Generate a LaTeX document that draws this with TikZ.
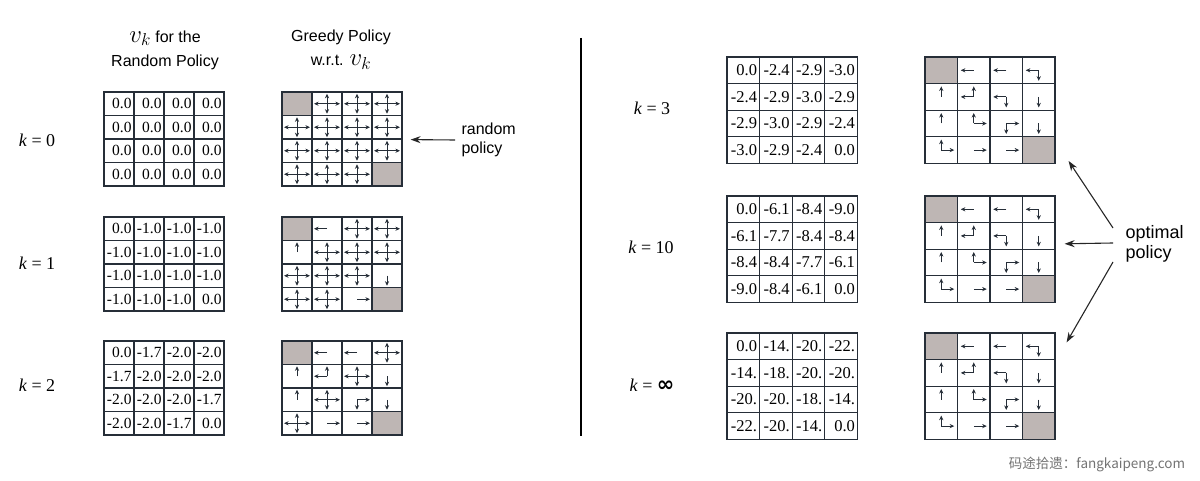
\documentclass[tikz,border=0pt]{standalone}
\usepackage{fontspec}
\setmainfont{Liberation Serif}
\setsansfont{Liberation Sans}
\newfontfamily\cjkfont{Noto Sans CJK SC}
\newfontfamily\symfont{DejaVu Sans}
\usetikzlibrary{arrows.meta}

\definecolor{gridc}{RGB}{38,46,56}
\definecolor{termgray}{RGB}{190,182,180}
\definecolor{markc}{RGB}{115,115,115}

\tikzset{
  valfont/.style={font=\fontsize{15.5}{16}\selectfont},
  valcell/.style={draw=gridc, line width=1.2pt, inner xsep=2.5pt, inner ysep=0pt,
    minimum height=\ch, align=right, valfont},
  polcell/.style={draw=gridc, line width=1.2pt, inner sep=0pt,
    minimum width=\cw, minimum height=\ch},
  parr/.style={draw=gridc, line width=1pt, -{Stealth[length=4.6pt,width=4.2pt]}},
  callout/.style={draw=black!85, line width=1.1pt, -{Stealth[length=10pt,width=7pt]}},
  head/.style={font=\sffamily\fontsize{16}{24}\selectfont, align=center},
  klabel/.style={font=\fontsize{18}{20}\selectfont},
  note/.style={font=\sffamily\fontsize{16}{19.5}\selectfont, align=left, anchor=west},
  pics/arr l/.style={code={\draw[parr] (0,0) -- (-\ah,0);}},
  pics/arr r/.style={code={\draw[parr] (0,0) -- (\ah,0);}},
  pics/arr u/.style={code={\draw[parr] (0,0) -- (0,-\av);}},
  pics/arr d/.style={code={\draw[parr] (0,0) -- (0,\av);}},
  pics/arr A/.style={code={
    \draw[parr] (0,0) -- (-\ah,0); \draw[parr] (0,0) -- (\ah,0);
    \draw[parr] (0,0) -- (0,-\av); \draw[parr] (0,0) -- (0,\av);}},
  pics/arr T/.style={code={
    \fill[termgray] ({-\cw/2+0.6},{-\ch/2+0.6}) rectangle ({\cw/2-0.6},{\ch/2-0.6});}}
}

% name, left, top, cell width, cell height, entries
\newcommand{\valgrid}[6]{%
  \def\cw{#4}\def\ch{#5}%
  \pgfmathsetmacro\tw{#4-5}%
  \foreach \val [count=\i from 0] in {#6} {
    \pgfmathtruncatemacro\row{\i/4}
    \pgfmathtruncatemacro\col{\i-4*\row}
    \node[valcell, text width=\tw pt] (#1-\row-\col)
      at ({#2+(\col+0.5)*#4},{#3+(\row+0.5)*#5}) {\val};
  }}
\newcommand{\polgrid}[6]{%
  \def\cw{#4}\def\ch{#5}%
  \foreach \code [count=\i from 0] in {#6} {
    \pgfmathtruncatemacro\row{\i/4}
    \pgfmathtruncatemacro\col{\i-4*\row}
    \node[polcell] (#1-\row-\col) at ({#2+(\col+0.5)*#4},{#3+(\row+0.5)*#5}) {};
    \foreach \dir in \code {\pic at (#1-\row-\col) {arr \dir};}
  }}
\newcommand{\kval}[1]{\textit{k} = #1}

\begin{document}
\begin{tikzpicture}[x=1pt, y=-1pt]
\useasboundingbox (0,0) rectangle (1200,481);
\def\ah{13}\def\av{10}

% headers
\node[head] (hval) at (165,50) {{\fontsize{23}{23}\selectfont$v_k$} for the\\Random Policy};
\node[head] (hpol) at (341,50) {Greedy Policy\\w.r.t. {\fontsize{23}{23}\selectfont$v_k$}};

% left column
\node[klabel] (k0) at (37,140) {\kval{0}};
\node[klabel] (k1) at (37,263) {\kval{1}};
\node[klabel] (k2) at (37,385) {\kval{2}};

\valgrid{v0}{104}{92}{30}{23.5}{0.0,0.0,0.0,0.0, 0.0,0.0,0.0,0.0, 0.0,0.0,0.0,0.0, 0.0,0.0,0.0,0.0}
\valgrid{v1}{104}{217}{30}{23.5}{0.0,-1.0,-1.0,-1.0, -1.0,-1.0,-1.0,-1.0, -1.0,-1.0,-1.0,-1.0, -1.0,-1.0,-1.0,0.0}
\valgrid{v2}{104}{341}{30}{23.5}{0.0,-1.7,-2.0,-2.0, -1.7,-2.0,-2.0,-2.0, -2.0,-2.0,-2.0,-1.7, -2.0,-2.0,-1.7,0.0}

\polgrid{p0}{282}{92}{30}{23.5}{T,A,A,A, A,A,A,A, A,A,A,A, A,A,A,T}
\polgrid{p1}{282}{217}{30}{23.5}{T,l,A,A, u,A,A,A, A,A,A,d, A,A,r,T}
\polgrid{p2}{282}{341}{30}{23.5}{T,l,l,A, u,{u,l},A,d, u,A,{r,d},d, A,r,r,T}

\node[note] (rnd) at (458,140) {random\\policy};
\draw[callout] ([xshift=-3pt]rnd.west) -- ([xshift=8pt]p0-1-3.south east);

% separator
\draw[line width=2.5pt] (581,38) -- (581,436);

% right column
\node[klabel] (k3) at (652,108) {\kval{3}};
\node[klabel] (k10) at (651,247) {\kval{10}};
\node[klabel] (kinf) at (652,385) {\kval{{\symfont\bfseries\fontsize{21}{21}\selectfont ∞}}};

\begin{scope}[valfont/.style={font=\fontsize{16.5}{17}\selectfont}]
\valgrid{v3}{727}{57}{32.6}{26.6}{0.0,-2.4,-2.9,-3.0, -2.4,-2.9,-3.0,-2.9, -2.9,-3.0,-2.9,-2.4, -3.0,-2.9,-2.4,0.0}
\valgrid{v10}{727}{196}{32.6}{26.6}{0.0,-6.1,-8.4,-9.0, -6.1,-7.7,-8.4,-8.4, -8.4,-8.4,-7.7,-6.1, -9.0,-8.4,-6.1,0.0}
\valgrid{vinf}{727}{333}{32.6}{26.6}{0.0,-14.,-20.,-22., -14.,-18.,-20.,-20., -20.,-20.,-18.,-14., -22.,-20.,-14.,0.0}
\end{scope}

\def\av{10.5}
\polgrid{p3}{925}{57}{32.5}{26.6}{T,l,l,{l,d}, u,{u,l},{l,d},d, u,{u,r},{r,d},d, {u,r},r,r,T}
\polgrid{p10}{925}{196}{32.5}{26.6}{T,l,l,{l,d}, u,{u,l},{l,d},d, u,{u,r},{r,d},d, {u,r},r,r,T}
\polgrid{pinf}{925}{333}{32.5}{26.6}{T,l,l,{l,d}, u,{u,l},{l,d},d, u,{u,r},{r,d},d, {u,r},r,r,T}

\node[note, font=\sffamily\fontsize{18}{20.5}\selectfont] (opt) at (1122,244) {optimal\\policy};
\draw[callout] ([xshift=-9pt,yshift=16pt]opt.west) -- ([xshift=13pt,yshift=3pt]p3-3-3.south east);
\draw[callout] ([xshift=-9pt,yshift=1pt]opt.west) -- ([xshift=9pt,yshift=6pt]p10-1-3.south east);
\draw[callout] ([xshift=-9pt,yshift=-18pt]opt.west) -- ([xshift=11pt,yshift=-10pt]pinf-0-3.north east);

\node[font=\cjkfont\fontsize{13.5}{14}\selectfont, text=markc] (wm) at (1097,464) {码途拾遗：fangkaipeng.com};
\end{tikzpicture}
\end{document}
